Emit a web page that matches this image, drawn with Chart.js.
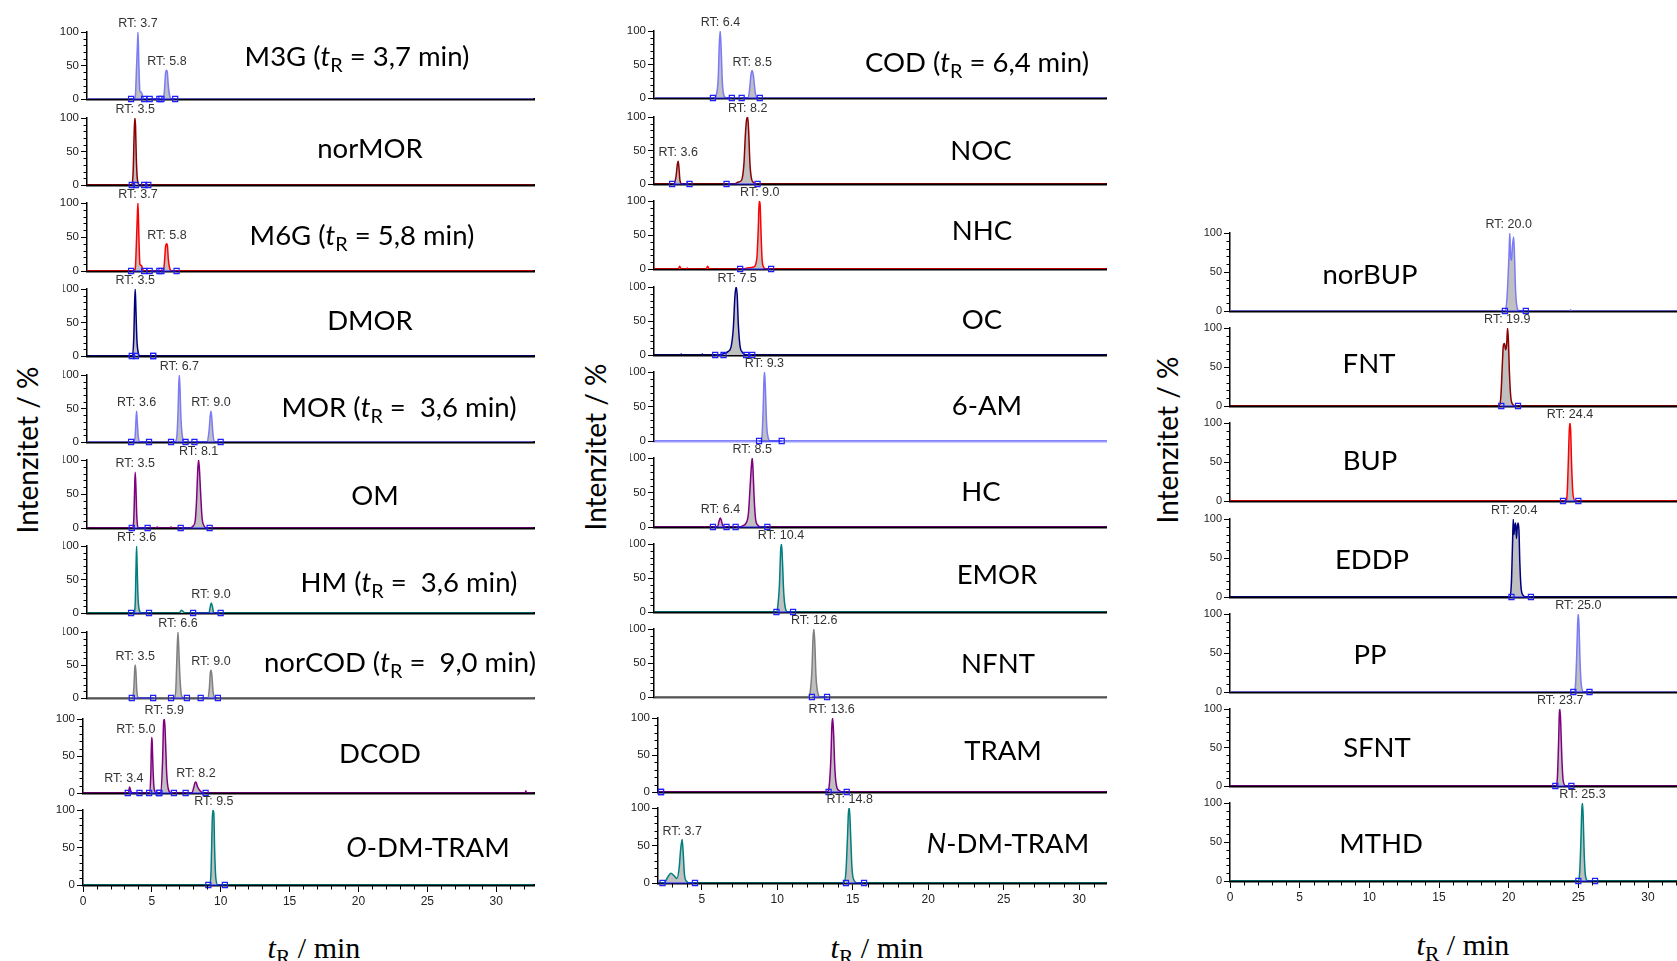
<!DOCTYPE html>
<html><head><meta charset="utf-8">
<script src="https://cdn.jsdelivr.net/npm/chart.js@4.4.1/dist/chart.umd.min.js"></script>
<style>
html,body{margin:0;padding:0;background:#fff;}
#page{position:relative;width:1677px;height:961px;overflow:hidden;background:#fff;}
.clip{position:absolute;overflow:hidden;}
.clip canvas{position:absolute;}
.lbl{position:absolute;font-family:Lato,'Open Sans',sans-serif;font-size:27.5px;color:#000;white-space:pre;transform:translate(-50%,-50%);line-height:1;}
.lbl sub{font-size:0.72em;vertical-align:-0.28em;line-height:0;}
.ytitle{position:absolute;font-family:Lato,'Open Sans',sans-serif;font-size:28px;white-space:nowrap;transform:translate(-50%,-50%) rotate(-90deg);line-height:1;}
.xtitle{position:absolute;font-family:'Liberation Serif','Times New Roman',serif;font-size:30px;white-space:nowrap;transform:translate(-50%,-50%);line-height:1;}
.xtitle sub{font-size:0.72em;vertical-align:-0.3em;line-height:0;}
</style></head><body><div id="page"></div>
<script>
// ---------------- tick labels ----------------
const yTickValues = [0, 50, 100];
const xTickValues = [0, 5, 10, 15, 20, 25, 30];

// ---------------- panel names ----------------
const col1Labels = ['M3G (<i>t</i><sub>R</sub> = 3,7 min)', 'norMOR', 'M6G (<i>t</i><sub>R</sub> = 5,8 min)', 'DMOR',
  'MOR (<i>t</i><sub>R</sub> =  3,6 min)', 'OM', 'HM (<i>t</i><sub>R</sub> =  3,6 min)',
  'norCOD (<i>t</i><sub>R</sub> =  9,0 min)', 'DCOD', '<i>O</i>-DM-TRAM'];
const col2Labels = ['COD (<i>t</i><sub>R</sub> = 6,4 min)', 'NOC', 'NHC', 'OC', '6-AM', 'HC', 'EMOR', 'NFNT', 'TRAM', '<i>N</i>-DM-TRAM'];
const col3Labels = ['norBUP', 'FNT', 'BUP', 'EDDP', 'PP', 'SFNT', 'MTHD'];
const yTitle = 'Intenzitet / %';
const xTitle = '<i>t</i><sub>R</sub> / min';

// ---------------- series: time (min) / intensity (%) ----------------
// column 1
const M3G_t = [0, 3.35, 3.5, 3.6, 3.66, 3.7, 3.76, 3.84, 3.95, 4.05, 4.2, 5.45, 5.6, 5.7, 5.77, 5.83, 5.9, 6.0, 6.15, 32.4];
const M3G_i = [0, 0, 3, 50, 80, 100, 55, 12, 10, 3, 0, 0, 8, 38, 43, 40, 20, 5, 0, 0];
const M3G_rt = [3.7, 5.8], M3G_rtH = [100, 43];
const M3G_bd = [3.2, 4.15, 4.55, 5.25, 5.4, 6.4];

const norMOR_t = [0, 3.25, 3.35, 3.42, 3.47, 3.52, 3.58, 3.66, 3.8, 32.4];
const norMOR_i = [0, 0, 20, 75, 100, 90, 40, 8, 0, 0];
const norMOR_rt = [3.5], norMOR_rtH = [100];
const norMOR_bd = [3.25, 3.55, 4.15, 4.45];

const M6G_t = [0, 3.35, 3.5, 3.6, 3.66, 3.7, 3.76, 3.84, 3.95, 4.05, 4.2, 5.45, 5.6, 5.7, 5.77, 5.83, 5.9, 6.0, 6.15, 32.4];
const M6G_i = [0, 0, 3, 50, 85, 100, 55, 10, 8, 2, 0, 0, 8, 35, 40, 38, 18, 4, 0, 0];
const M6G_rt = [3.7, 5.8], M6G_rtH = [100, 40];
const M6G_bd = [3.2, 4.15, 4.55, 5.25, 5.4, 6.5];

const DMOR_t = [0, 3.3, 3.4, 3.45, 3.5, 3.55, 3.62, 3.72, 3.85, 32.4];
const DMOR_i = [0, 0, 30, 75, 100, 70, 25, 5, 0, 0];
const DMOR_rt = [3.5], DMOR_rtH = [100];
const DMOR_bd = [3.25, 3.55, 4.8, 4.8];

const MOR_t = [0, 3.4, 3.5, 3.56, 3.6, 3.65, 3.72, 3.85, 6.35, 6.5, 6.6, 6.66, 6.7, 6.75, 6.82, 6.95, 7.1, 8.7, 8.85, 8.95, 9.0, 9.06, 9.15, 9.3, 32.4];
const MOR_i = [0, 0, 10, 35, 46, 30, 8, 0, 0, 5, 40, 85, 100, 80, 35, 5, 0, 0, 15, 40, 46, 35, 10, 0, 0];
const MOR_rt = [3.6, 6.7, 9.0], MOR_rtH = [46, 100, 46];
const MOR_bd = [3.2, 4.5, 6.1, 7.15, 7.8, 9.7];

const OM_t = [0, 3.3, 3.4, 3.46, 3.5, 3.55, 3.62, 3.75, 5.0, 5.1, 5.2, 6.0, 6.1, 6.2, 7.5, 7.7, 7.85, 7.95, 8.05, 8.1, 8.15, 8.25, 8.35, 8.5, 8.7, 32.4];
const OM_i = [0, 0, 15, 60, 82, 60, 15, 0, 0, 1.5, 0, 0, 1.5, 0, 0, 3, 10, 40, 90, 100, 90, 50, 15, 3, 0, 0];
const OM_rt = [3.5, 8.1], OM_rtH = [82, 100];
const OM_bd = [3.25, 4.4, 6.8, 8.9];

const HM_t = [0, 3.4, 3.5, 3.56, 3.6, 3.64, 3.7, 3.8, 3.95, 6.7, 6.85, 6.95, 7.1, 8.85, 8.95, 9.02, 9.1, 9.2, 32.4];
const HM_i = [0, 0, 15, 70, 100, 70, 25, 4, 0, 0, 4, 3, 0, 0, 10, 15, 10, 0, 0];
const HM_rt = [3.6, 9.0], HM_rtH = [100, 15];
const HM_bd = [3.2, 4.5, 7.7, 9.7];

const norCOD_t = [0, 3.3, 3.4, 3.46, 3.5, 3.55, 3.62, 3.75, 6.35, 6.45, 6.53, 6.6, 6.66, 6.75, 6.85, 7.0, 8.75, 8.88, 8.95, 9.0, 9.06, 9.15, 9.3, 32.4];
const norCOD_i = [0, 0, 15, 42, 50, 40, 10, 0, 0, 15, 65, 100, 75, 30, 5, 0, 0, 15, 38, 42, 35, 10, 0, 0];
const norCOD_rt = [3.5, 6.6, 9.0], norCOD_rtH = [50, 100, 42];
const norCOD_bd = [3.25, 4.8, 6.1, 7.25, 8.25, 9.5];

const DCOD_t = [0, 3.3, 3.38, 3.45, 3.55, 4.85, 4.93, 4.98, 5.02, 5.08, 5.15, 5.3, 5.65, 5.78, 5.85, 5.9, 5.95, 6.0, 6.08, 6.2, 6.4, 7.9, 8.05, 8.15, 8.22, 8.32, 8.5, 8.7, 32.1, 32.15, 32.2, 32.7];
const DCOD_i = [0, 0, 8, 4, 0, 0, 30, 75, 70, 35, 8, 0, 0, 45, 95, 100, 90, 65, 25, 5, 0, 0, 8, 15, 14, 8, 3, 0, 0, 3, 0, 0];
const DCOD_rt = [3.4, 5.0, 5.9, 8.2], DCOD_rtH = [8, 75, 100, 15];
const DCOD_bd = [3.25, 4.1, 4.8, 5.5, 5.55, 6.6, 7.45, 8.9];

const ODM_t = [0, 9.2, 9.3, 9.38, 9.43, 9.5, 9.56, 9.65, 9.8, 32.7];
const ODM_i = [0, 0, 20, 85, 100, 95, 45, 8, 0, 0];
const ODM_rt = [9.5], ODM_rtH = [100];
const ODM_bd = [9.1, 10.3];

// column 2
const COD_t = [2.0, 5.95, 6.1, 6.25, 6.32, 6.38, 6.44, 6.52, 6.62, 6.8, 8.2, 8.3, 8.42, 8.5, 8.58, 8.7, 8.85, 31.96];
const COD_i = [0, 0, 3, 30, 80, 100, 75, 25, 4, 0, 0, 8, 35, 41, 33, 8, 0, 0];
const COD_rt = [6.4, 8.5], COD_rtH = [100, 41];
const COD_bd = [5.9, 7.15, 7.8, 9.0];

const NOC_t = [2.0, 3.3, 3.45, 3.55, 3.6, 3.65, 3.72, 3.85, 4.15, 4.2, 4.25, 7.3, 7.6, 7.8, 7.95, 8.05, 8.12, 8.2, 8.26, 8.35, 8.45, 8.6, 8.8, 31.96];
const NOC_i = [0, 0, 10, 30, 34, 25, 5, 0, 0, 1.5, 0, 0, 3, 6, 30, 75, 95, 100, 80, 30, 8, 2, 0, 0];
const NOC_rt = [3.6, 8.2], NOC_rtH = [34, 100];
const NOC_bd = [3.2, 4.35, 6.8, 8.85];

const NHC_t = [2.0, 3.6, 3.7, 3.8, 4.15, 4.2, 4.25, 5.45, 5.55, 5.65, 7.9, 8.3, 8.6, 8.8, 8.9, 8.96, 9.02, 9.08, 9.15, 9.25, 9.4, 31.96];
const NHC_i = [0, 0, 4, 0, 0, 1.5, 0, 0, 4, 0, 0, 2, 3, 15, 60, 100, 95, 55, 15, 3, 0, 0];
const NHC_rt = [9.0], NHC_rtH = [100];
const NHC_bd = [7.7, 9.75];

const OC_t = [2.0, 3.75, 3.8, 3.85, 5.15, 5.2, 5.25, 6.3, 6.6, 6.9, 7.1, 7.25, 7.35, 7.43, 7.5, 7.58, 7.7, 7.85, 8.0, 8.2, 31.96];
const OC_i = [0, 0, 1.5, 0, 0, 1.5, 0, 0, 2, 5, 12, 40, 85, 100, 90, 45, 12, 4, 1, 0, 0];
const OC_rt = [7.5], OC_rtH = [100];
const OC_bd = [6.05, 6.6, 8.1, 8.5];

const AM6_t = [2.0, 9.05, 9.15, 9.22, 9.28, 9.32, 9.38, 9.45, 9.55, 9.7, 31.96];
const AM6_i = [0, 0, 8, 45, 90, 100, 70, 25, 5, 0, 0];
const AM6_rt = [9.3], AM6_rtH = [100];
const AM6_bd = [8.95, 10.45];

const HC_t = [2.0, 6.2, 6.3, 6.38, 6.45, 6.55, 6.7, 7.6, 7.9, 8.1, 8.25, 8.35, 8.45, 8.5, 8.55, 8.62, 8.72, 8.85, 9.1, 31.96];
const HC_i = [0, 0, 8, 13, 10, 2, 0, 0, 2, 6, 20, 55, 90, 100, 85, 45, 12, 3, 0, 0];
const HC_rt = [6.4, 8.5], HC_rtH = [13, 100];
const HC_bd = [5.9, 6.8, 7.4, 9.5];

const EMOR_t = [2.0, 10.1, 10.2, 10.3, 10.38, 10.44, 10.5, 10.58, 10.7, 10.85, 31.96];
const EMOR_i = [0, 0, 10, 40, 90, 100, 75, 30, 5, 0, 0];
const EMOR_rt = [10.4], EMOR_rtH = [100];
const EMOR_bd = [10.1, 11.2];

const NFNT_t = [2.0, 12.2, 12.35, 12.45, 12.52, 12.58, 12.64, 12.72, 12.85, 13.0, 31.96];
const NFNT_i = [0, 0, 10, 40, 85, 100, 80, 30, 5, 0, 0];
const NFNT_rt = [12.6], NFNT_rtH = [100];
const NFNT_bd = [12.45, 13.45];

const TRAM_t = [2.1, 13.3, 13.45, 13.55, 13.62, 13.67, 13.73, 13.82, 13.95, 14.1, 14.3, 31.83];
const TRAM_i = [0, 0, 10, 45, 90, 100, 80, 30, 6, 2, 0, 0];
const TRAM_rt = [13.6], TRAM_rtH = [100];
const TRAM_bd = [2.3, 2.3, 13.4, 14.6];

const NDM_t = [2.1, 2.5, 2.75, 2.95, 3.15, 3.35, 3.5, 3.6, 3.7, 3.77, 3.85, 4.0, 4.2, 14.4, 14.55, 14.65, 14.72, 14.78, 14.85, 14.95, 15.1, 15.3, 31.83];
const NDM_i = [0, 0, 8, 13, 10, 6, 20, 45, 58, 40, 12, 2, 0, 0, 15, 60, 95, 100, 70, 20, 3, 0, 0];
const NDM_rt = [3.7, 14.8], NDM_rtH = [58, 100];
const NDM_bd = [2.4, 4.55, 14.55, 15.75];

// column 3
const norBUP_t = [0, 19.7, 19.85, 19.95, 20.03, 20.08, 20.14, 20.2, 20.28, 20.36, 20.42, 20.5, 20.6, 20.75, 24.4, 24.45, 24.5, 33];
const norBUP_i = [0, 0, 10, 40, 75, 100, 70, 65, 85, 95, 70, 25, 5, 0, 0, 1.5, 0, 0];
const norBUP_rt = [20.0], norBUP_rtH = [100];
const norBUP_bd = [19.73, 21.23];

const FNT_t = [0, 19.35, 19.45, 19.55, 19.62, 19.7, 19.78, 19.86, 19.92, 19.98, 20.05, 20.15, 20.3, 20.45, 33];
const FNT_i = [0, 0, 15, 55, 78, 80, 72, 80, 100, 85, 45, 12, 2, 0, 0];
const FNT_rt = [19.9], FNT_rtH = [100];
const FNT_bd = [19.47, 20.67];

const BUP_t = [0, 24.1, 24.2, 24.28, 24.35, 24.4, 24.45, 24.52, 24.62, 24.8, 33];
const BUP_i = [0, 0, 10, 50, 90, 100, 90, 45, 8, 0, 0];
const BUP_rt = [24.4], BUP_rtH = [100];
const BUP_bd = [23.9, 25.0];

const EDDP_t = [0, 20.1, 20.2, 20.28, 20.33, 20.38, 20.43, 20.5, 20.56, 20.62, 20.68, 20.74, 20.8, 20.9, 21.05, 21.2, 33];
const EDDP_i = [0, 0, 20, 70, 100, 80, 90, 95, 75, 90, 95, 85, 45, 10, 2, 0, 0];
const EDDP_rt = [20.4], EDDP_rtH = [100];
const EDDP_bd = [20.2, 21.6];

const PP_t = [0, 24.7, 24.8, 24.88, 24.95, 25.0, 25.05, 25.12, 25.22, 25.4, 33];
const PP_i = [0, 0, 10, 45, 88, 100, 85, 40, 8, 0, 0];
const PP_rt = [25.0], PP_rtH = [100];
const PP_bd = [24.64, 25.8];

const SFNT_t = [0, 23.4, 23.5, 23.58, 23.64, 23.68, 23.74, 23.82, 23.92, 24.1, 33];
const SFNT_i = [0, 0, 12, 55, 95, 100, 80, 35, 6, 0, 0];
const SFNT_rt = [23.7], SFNT_rtH = [100];
const SFNT_bd = [23.35, 24.5];

const MTHD_t = [0, 25.0, 25.1, 25.18, 25.25, 25.3, 25.35, 25.42, 25.52, 25.7, 33];
const MTHD_i = [0, 0, 12, 50, 92, 100, 82, 35, 6, 0, 0];
const MTHD_rt = [25.3], MTHD_rtH = [100];
const MTHD_bd = [25.0, 26.2];

// ---------------- layout & style ----------------
const C = {lb:'#7b7bf7', dr:'#8b0000', r:'#ff0000', nv:'#00007f', pu:'#800080', te:'#007f7f', gr:'#7f7f7f'};
const GEOM = {
  c1a:{axis:87, min:0, max:32.5, ppm:13.93, fs:11.5},
  c1b:{axis:83, min:0, max:32.8, ppm:13.93, fs:11.5},
  c2a:{axis:654, min:2.0, max:31.96, ppm:15.28, fs:11.5},
  c2b:{axis:658, min:2.1, max:31.83, ppm:15.28, fs:11.5},
  c3:{axis:1230, min:0, max:33, ppm:14.08, fs:11}
};
const P = [
 {lab:col1Labels[0], t:M3G_t, i:M3G_i, rt:M3G_rt, h:M3G_rtH, bd:M3G_bd, c:C.lb, g:'c1a', y100:32, y0:99, lx:357, ly:56},
 {lab:col1Labels[1], t:norMOR_t, i:norMOR_i, rt:norMOR_rt, h:norMOR_rtH, bd:norMOR_bd, c:C.dr, g:'c1a', y100:118, y0:185, lx:370, ly:148},
 {lab:col1Labels[2], t:M6G_t, i:M6G_i, rt:M6G_rt, h:M6G_rtH, bd:M6G_bd, c:C.r, g:'c1a', y100:203, y0:271, lx:362, ly:235},
 {lab:col1Labels[3], t:DMOR_t, i:DMOR_i, rt:DMOR_rt, h:DMOR_rtH, bd:DMOR_bd, c:C.nv, g:'c1a', y100:289, y0:356, lx:370, ly:320, clipL:63},
 {lab:col1Labels[4], t:MOR_t, i:MOR_i, rt:MOR_rt, h:MOR_rtH, bd:MOR_bd, c:C.lb, g:'c1a', y100:375, y0:442, lx:399, ly:407, clipL:63},
 {lab:col1Labels[5], t:OM_t, i:OM_i, rt:OM_rt, h:OM_rtH, bd:OM_bd, c:C.pu, g:'c1a', y100:460, y0:528, lx:375, ly:495, clipL:63},
 {lab:col1Labels[6], t:HM_t, i:HM_i, rt:HM_rt, h:HM_rtH, bd:HM_bd, c:C.te, g:'c1a', y100:546, y0:613, lx:409, ly:582, clipL:63},
 {lab:col1Labels[7], t:norCOD_t, i:norCOD_i, rt:norCOD_rt, h:norCOD_rtH, bd:norCOD_bd, c:C.gr, g:'c1a', y100:632, y0:698, lx:400, ly:662, clipL:63, axc:'#555'},
 {lab:col1Labels[8], t:DCOD_t, i:DCOD_i, rt:DCOD_rt, h:DCOD_rtH, bd:DCOD_bd, c:C.pu, g:'c1b', y100:719, y0:793, lx:380, ly:753, dx:[-6,-16,0,0]},
 {lab:col1Labels[9], t:ODM_t, i:ODM_i, rt:ODM_rt, h:ODM_rtH, bd:ODM_bd, c:C.te, g:'c1b', y100:810, y0:885, lx:428, ly:847, bottom:true},

 {lab:col2Labels[0], t:COD_t, i:COD_i, rt:COD_rt, h:COD_rtH, bd:COD_bd, c:C.lb, g:'c2a', y100:31, y0:98, lx:977, ly:62},
 {lab:col2Labels[1], t:NOC_t, i:NOC_i, rt:NOC_rt, h:NOC_rtH, bd:NOC_bd, c:C.dr, g:'c2a', y100:117, y0:184, lx:981, ly:150},
 {lab:col2Labels[2], t:NHC_t, i:NHC_i, rt:NHC_rt, h:NHC_rtH, bd:NHC_bd, c:C.r, g:'c2a', y100:201, y0:269, lx:982, ly:230},
 {lab:col2Labels[3], t:OC_t, i:OC_i, rt:OC_rt, h:OC_rtH, bd:OC_bd, c:C.nv, g:'c2a', y100:287, y0:355, lx:982, ly:319, clipL:630},
 {lab:col2Labels[4], t:AM6_t, i:AM6_i, rt:AM6_rt, h:AM6_rtH, bd:AM6_bd, c:C.lb, g:'c2a', y100:372, y0:441, lx:987, ly:405, clipL:630, axc:'#9a9aff'},
 {lab:col2Labels[5], t:HC_t, i:HC_i, rt:HC_rt, h:HC_rtH, bd:HC_bd, c:C.pu, g:'c2a', y100:458, y0:527, lx:981, ly:491, clipL:630},
 {lab:col2Labels[6], t:EMOR_t, i:EMOR_i, rt:EMOR_rt, h:EMOR_rtH, bd:EMOR_bd, c:C.te, g:'c2a', y100:544, y0:612, lx:997, ly:574, clipL:630},
 {lab:col2Labels[7], t:NFNT_t, i:NFNT_i, rt:NFNT_rt, h:NFNT_rtH, bd:NFNT_bd, c:C.gr, g:'c2a', y100:629, y0:697, lx:998, ly:663, clipL:630, axc:'#555'},
 {lab:col2Labels[8], t:TRAM_t, i:TRAM_i, rt:TRAM_rt, h:TRAM_rtH, bd:TRAM_bd, c:C.pu, g:'c2b', y100:718, y0:792, lx:1003, ly:750},
 {lab:col2Labels[9], t:NDM_t, i:NDM_i, rt:NDM_rt, h:NDM_rtH, bd:NDM_bd, c:C.te, g:'c2b', y100:808, y0:883, lx:1008, ly:843, bottom:true},

 {lab:col3Labels[0], t:norBUP_t, i:norBUP_i, rt:norBUP_rt, h:norBUP_rtH, bd:norBUP_bd, c:C.lb, g:'c3', y100:233, y0:311, lx:1370, ly:274},
 {lab:col3Labels[1], t:FNT_t, i:FNT_i, rt:FNT_rt, h:FNT_rtH, bd:FNT_bd, c:C.dr, g:'c3', y100:328, y0:406, lx:1369, ly:363},
 {lab:col3Labels[2], t:BUP_t, i:BUP_i, rt:BUP_rt, h:BUP_rtH, bd:BUP_bd, c:C.r, g:'c3', y100:423, y0:501, lx:1370, ly:460},
 {lab:col3Labels[3], t:EDDP_t, i:EDDP_i, rt:EDDP_rt, h:EDDP_rtH, bd:EDDP_bd, c:C.nv, g:'c3', y100:519, y0:597, lx:1372, ly:559},
 {lab:col3Labels[4], t:PP_t, i:PP_i, rt:PP_rt, h:PP_rtH, bd:PP_bd, c:C.lb, g:'c3', y100:614, y0:692, lx:1370, ly:654},
 {lab:col3Labels[5], t:SFNT_t, i:SFNT_i, rt:SFNT_rt, h:SFNT_rtH, bd:SFNT_bd, c:C.pu, g:'c3', y100:709, y0:786, lx:1377, ly:747},
 {lab:col3Labels[6], t:MTHD_t, i:MTHD_i, rt:MTHD_rt, h:MTHD_rtH, bd:MTHD_bd, c:C.te, g:'c3', y100:803, y0:881, lx:1381, ly:843, bottom:true}
];
const TITLES_Y = [{x:27, y:450}, {x:595, y:447}, {x:1167, y:440}];
const TITLES_X = [{x:314, y:948}, {x:877, y:948}, {x:1463, y:945}];

Chart.defaults.font.family = "'Liberation Sans', Arial, sans-serif";
Chart.defaults.animation = false;
const page = document.getElementById('page');

function makePanel(p) {
  const G = GEOM[p.g];
  const YW = 42, PT = 20, PB = p.bottom ? 34 : 10;
  const plotW = (G.max - G.min) * G.ppm;
  const plotH = p.y0 - p.y100;
  const W = Math.round(YW + plotW), H = PT + plotH + PB;
  const left = G.axis - YW, top = p.y100 - PT;
  const clipL = p.clipL != null ? p.clipL : left;
  const div = document.createElement('div');
  div.className = 'clip';
  div.style.left = clipL + 'px'; div.style.top = top + 'px';
  div.style.width = (left + W - clipL) + 'px'; div.style.height = H + 'px';
  const cv = document.createElement('canvas');
  cv.width = W; cv.height = H;
  cv.style.width = W + 'px'; cv.style.height = H + 'px';
  cv.style.left = (left - clipL) + 'px'; cv.style.top = '0px';
  div.appendChild(cv); page.appendChild(div);

  const trace = p.t.map((x, k) => ({x: x, y: p.i[k]}));
  const marks = [];
  for (let k = 0; k < p.bd.length; k += 2) {
    marks.push({x: p.bd[k], y: 0}, {x: p.bd[k + 1], y: 0});
    if (k + 2 < p.bd.length) marks.push({x: (p.bd[k + 1] + p.bd[k + 2]) / 2, y: null});
  }

  const deco = {
    id: 'deco',
    afterDraw(chart) {
      const ctx = chart.ctx, xs = chart.scales.x, ys = chart.scales.y, a = chart.chartArea;
      ctx.save();
      ctx.strokeStyle = '#000'; ctx.lineWidth = 1;
      ctx.beginPath();
      for (let v = 10; v < 100; v += 10) {
        if (yTickValues.includes(v)) continue;
        const y = Math.round(ys.getPixelForValue(v)) + 0.5;
        ctx.moveTo(a.left - 3.5, y); ctx.lineTo(a.left, y);
      }
      if (p.bottom) {
        for (let v = Math.ceil(xs.min); v <= xs.max; v++) {
          if (v % 5 === 0) continue;
          const x = Math.round(xs.getPixelForValue(v)) + 0.5;
          ctx.moveTo(x, a.bottom); ctx.lineTo(x, a.bottom + 4.5);
        }
      }
      ctx.stroke();
      ctx.fillStyle = '#333';
      ctx.font = "12.5px 'Liberation Sans', Arial, sans-serif";
      ctx.textAlign = 'center'; ctx.textBaseline = 'alphabetic';
      p.rt.forEach((r, k) => {
        const x = xs.getPixelForValue(r) + (p.dx ? p.dx[k] : 0);
        const y = ys.getPixelForValue(p.h[k]) - 5;
        ctx.fillText('RT: ' + r.toFixed(1), x, y);
      });
      ctx.restore();
    }
  };

  new Chart(cv, {
    type: 'line',
    data: {
      datasets: [
        {data: trace, borderColor: p.c, borderWidth: 1.5, backgroundColor: '#c0c0c0', fill: 'origin',
         pointRadius: 0, cubicInterpolationMode: 'monotone', order: 2},
        {data: marks, borderColor: '#1f1fff', borderWidth: 1.2, pointStyle: 'rect', pointRadius: 3.6,
         pointBorderWidth: 1.2, pointBackgroundColor: 'rgba(255,255,255,0)', pointBorderColor: '#1f1fff',
         fill: false, spanGaps: false, clip: 8, order: 1}
      ]
    },
    options: {
      responsive: false,
      animation: false,
      events: [],
      layout: {padding: {top: PT, left: 0, right: 0, bottom: 0}},
      plugins: {legend: {display: false}, tooltip: {enabled: false}},
      scales: {
        x: {
          type: 'linear', min: G.min, max: G.max, bounds: 'data',
          afterFit(s) { s.height = PB; },
          afterBuildTicks(s) { s.ticks = xTickValues.filter(v => v >= G.min && v <= G.max).map(v => ({value: v})); },
          grid: {display: !!p.bottom, drawOnChartArea: false, drawTicks: true, tickLength: 7, color: '#000', lineWidth: 1},
          border: {display: true, color: p.axc || '#000', width: 2.5},
          ticks: {display: !!p.bottom, color: '#222', font: {size: 12}, padding: 2, maxRotation: 0, autoSkip: false}
        },
        y: {
          type: 'linear', min: 0, max: 100, bounds: 'data',
          afterFit(s) { s.width = YW; },
          afterBuildTicks(s) { s.ticks = yTickValues.map(v => ({value: v})); },
          grid: {display: true, drawOnChartArea: false, drawTicks: true, tickLength: 6, color: '#000', lineWidth: 1},
          border: {display: true, color: '#000', width: 1.5},
          ticks: {color: '#222', font: {size: G.fs}, padding: 2}
        }
      }
    },
    plugins: [deco]
  });

  const l = document.createElement('div');
  l.className = 'lbl';
  l.innerHTML = p.lab;
  l.style.left = p.lx + 'px'; l.style.top = p.ly + 'px';
  page.appendChild(l);
}

P.forEach(makePanel);

TITLES_Y.forEach(o => {
  const d = document.createElement('div');
  d.className = 'ytitle'; d.textContent = yTitle;
  d.style.left = o.x + 'px'; d.style.top = o.y + 'px';
  page.appendChild(d);
});
TITLES_X.forEach(o => {
  const d = document.createElement('div');
  d.className = 'xtitle'; d.innerHTML = xTitle;
  d.style.left = o.x + 'px'; d.style.top = o.y + 'px';
  page.appendChild(d);
});
</script></body></html>
